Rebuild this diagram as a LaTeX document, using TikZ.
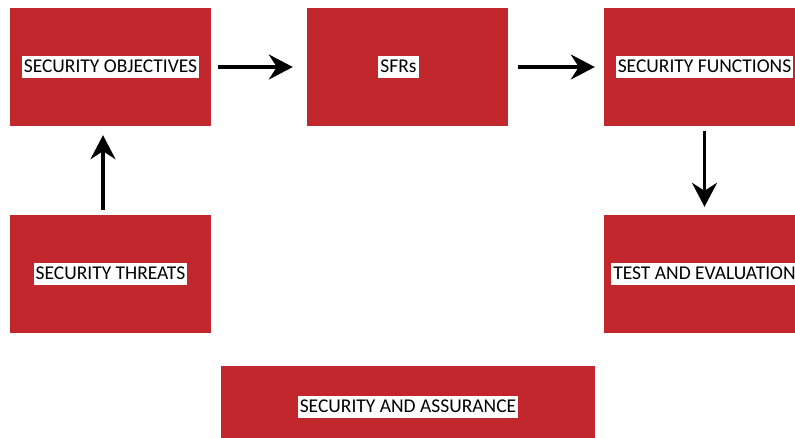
\documentclass[tikz,border=0pt]{standalone}
\usepackage{fontspec}
\setmainfont{Carlito}
\usetikzlibrary{arrows.meta}
\definecolor{boxred}{RGB}{193,39,45}
% white label strip behind each caption
\newcommand{\tagbox}[1]{{\setlength{\fboxsep}{2pt}\colorbox{white}{\rule[-4pt]{0pt}{18pt}#1}}}
\tikzset{
  redbox/.style={fill=boxred, draw=none, minimum width=201pt, minimum height=118pt, inner sep=0pt,
    font=\fontsize{19.5}{22}\selectfont},
  flow/.style={line width=3.5pt, -{Stealth[length=24pt, width=25pt, inset=8pt]}}
}
\begin{document}
\begin{tikzpicture}[x=1pt, y=-1pt]
  \useasboundingbox (0,0) rectangle (795,437);
  \clip (0,0) rectangle (795,437);
  % top row
  \node[redbox] (obj) at (110.5,67) {\tagbox{SECURITY OBJECTIVES}};
  \node[redbox] (sfr) at (407.5,67) {\hspace*{-18pt}\tagbox{SFRs}};
  \node[redbox] (fun) at (704.5,67) {\tagbox{SECURITY FUNCTIONS}};
  % middle row
  \node[redbox] (thr) at (110.5,274) {\tagbox{SECURITY THREATS}};
  \node[redbox] (tev) at (704.5,274) {\tagbox{TEST AND EVALUATION}};
  % bottom bar
  \node[redbox, minimum width=374pt, minimum height=100pt, text depth=0pt] (sa) at (408,416)
    {\raisebox{24pt}{\tagbox{SECURITY AND ASSURANCE}}};
  % connectors
  \draw[flow] ([xshift=7pt]obj.east) -- ([xshift=-14pt]sfr.west);
  \draw[flow] ([xshift=10pt]sfr.east) -- ([xshift=-9pt]fun.west);
  \draw[flow] ([xshift=-7.5pt,yshift=5pt]thr.north) -- ([xshift=-7.5pt,yshift=-9pt]obj.south);
  \draw[flow] ([yshift=-5pt]fun.south) -- ([yshift=8pt]tev.north);
\end{tikzpicture}
\end{document}
